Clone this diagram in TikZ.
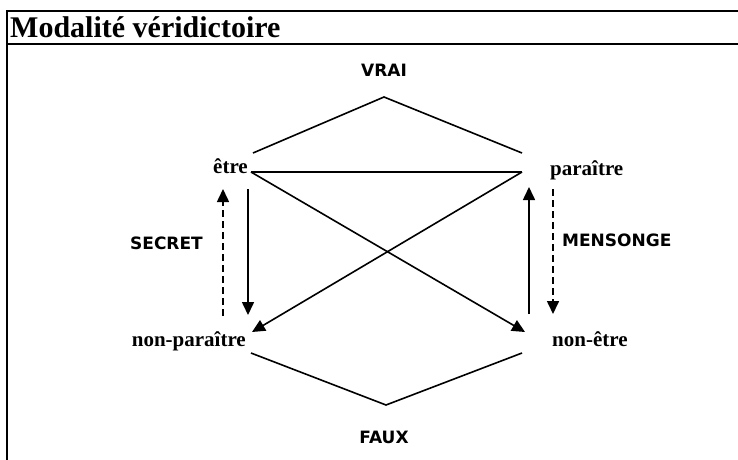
\documentclass[tikz,border=0pt]{standalone}
\usepackage{fontspec}
\setmainfont{Liberation Serif}
\newfontfamily\sansfont{DejaVu Sans}
\usetikzlibrary{arrows.meta}
\tikzset{
  pole/.style     = {font=\fontsize{21}{24}\selectfont\bfseries, inner sep=0pt},
  valeur/.style   = {font=\sansfont\fontsize{17}{20}\selectfont\bfseries, inner sep=0pt},
  trait/.style    = {-, line width=1.6pt, black},
  implique/.style = {-{Triangle[length=13pt, width=12pt]}, line width=1.6pt, black},
  secret/.style   = {implique, dash pattern=on 7pt off 4pt},
}

\begin{document}
\begin{tikzpicture}[x=1pt, y=-1pt]
    \useasboundingbox (0,0) rectangle (738,459);
    % cadre et titre
    \draw[line width=2pt] (7,470) -- (7,11) -- (750,11);
    \draw[line width=2pt] (7,44) -- (750,44);
    \node[anchor=base west, inner sep=0pt, font=\fontsize{30}{34}\selectfont\bfseries]
      (titre) at (10,37) {Modalité véridictoire};

    \node[valeur] (vrai) at (384,70) {VRAI};
    \node[valeur] (faux) at (384,437) {FAUX};
    \node[pole, anchor=east] (etre)        at (248,166) {être};
    \node[pole, anchor=west] (paraitre)    at (550,170) {paraître};
    \node[pole, anchor=east] (nonparaitre) at (246,341) {non-paraître};
    \node[pole, anchor=west] (nonetre)     at (552,339) {non-être};
    \node[valeur, anchor=east] (secret)   at (203,243) {SECRET};
    \node[valeur, anchor=west] (mensonge) at (562,240) {MENSONGE};

    % points d'attache
    \coordinate (sommet) at (384,97);
    \coordinate (base)   at (386,405);
    \coordinate (e1) at (253,153);  \coordinate (p1) at (522,153);
    \coordinate (e2) at (251,172);  \coordinate (p2) at (522,172);
    \coordinate (np) at (252,332);  \coordinate (ne) at (525,332);
    \coordinate (np2) at (251,353); \coordinate (ne2) at (522,353);

    \draw[trait] (e1) -- (sommet) -- (p1);
    \draw[trait] (np2) -- (base) -- (ne2);
    \draw[trait] (e2) -- (p2);
    \draw[implique] (e2) -- (ne);
    \draw[implique] (p2) -- (np);

    \draw[implique] (etre.east |- 0,189) -- (etre.east |- 0,315);
    \draw[secret]   (223,316) -- (223,189);
    \draw[implique] (529,314) -- (529,187);
    \draw[secret]   (553,189) -- (553,314);
  \end{tikzpicture}
\end{document}
